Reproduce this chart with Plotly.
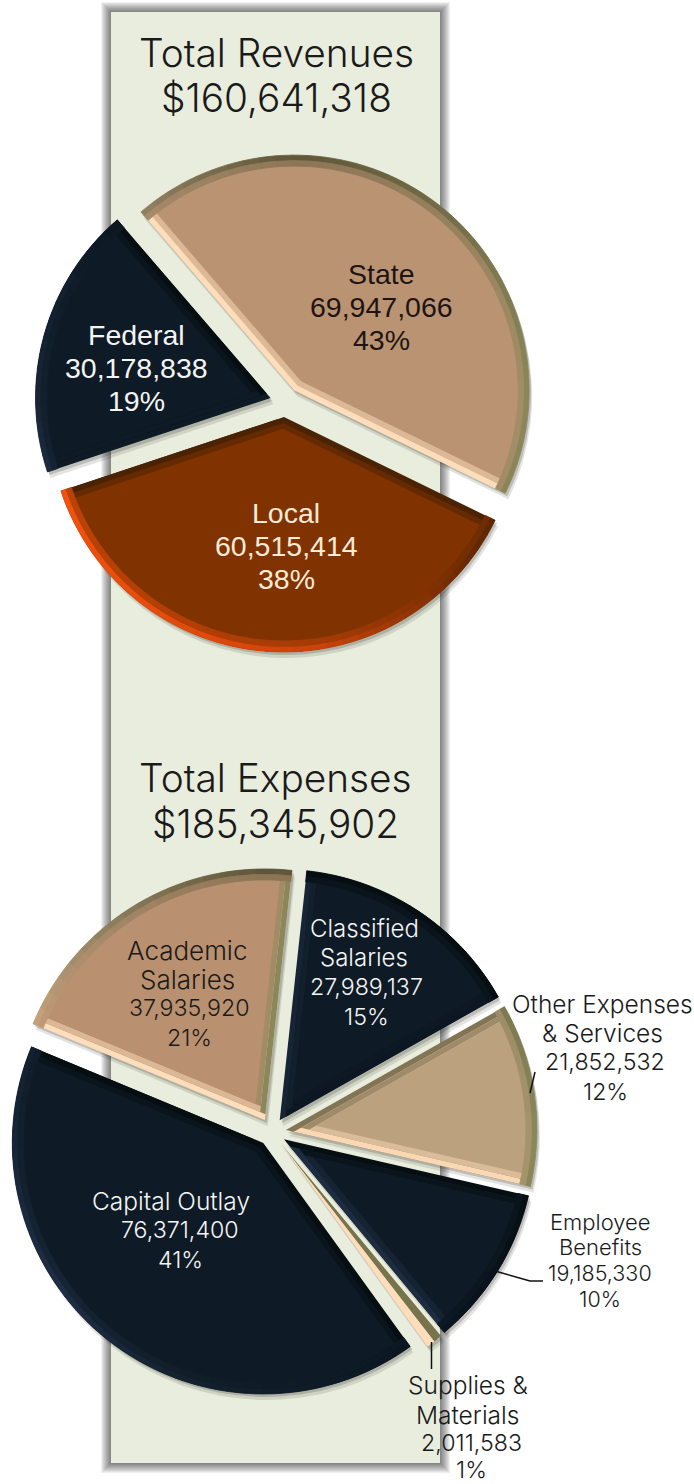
import math
import plotly.graph_objects as go

W, H = 694, 1484

# data
rev_title = ["Total Revenues", "$160,641,318"]
rev_labels = ["State", "Local", "Federal"]
rev_values = [69947066, 60515414, 30178838]
rev_pct = ["43%", "38%", "19%"]

exp_title = ["Total Expenses", "$185,345,902"]
exp_labels = ["Classified<br>Salaries", "Other Expenses<br>& Services", "Employee<br>Benefits",
              "Supplies &<br>Materials", "Capital Outlay", "Academic<br>Salaries"]
exp_values = [27989137, 21852532, 19185330, 2011583, 76371400, 37935920]
exp_pct = ["15%", "12%", "10%", "1%", "41%", "21%"]

# bevel colour by the direction a surface faces (degrees clockwise from top)
TAN = [(0, "#5E5638"), (45, "#75704A"), (90, "#8A875A"), (130, "#8A8458"), (165, "#E8C49A"), (200, "#FFDDBB"),
       (240, "#FFDDBB"), (285, "#D8AE88"), (320, "#8F8060"), (360, "#5E5638")]
BROWN = [(0, "#4A2204"), (100, "#4A2204"), (130, "#6A2A02"), (170, "#C8430A"), (200, "#E04A0C"), (250, "#F2520E"),
         (300, "#7A3300"), (340, "#4A2204"), (360, "#4A2204")]
NAVY = [(0, "#060E12"), (100, "#060E12"), (140, "#0A1520"), (200, "#14222F"), (235, "#1E2E44"), (300, "#111E2B"),
        (340, "#060E12"), (360, "#060E12")]

rev_faces = ["#BA9472", "#803300", "#0E1A25"]
rev_ramps = [TAN, BROWN, NAVY]
exp_faces = ["#0E1A25", "#BCA17F", "#0E1A25", "#D9C79A", "#0E1A25", "#BA9170"]
exp_ramps = [NAVY, TAN, NAVY, TAN, NAVY, TAN]

fig = go.Figure()


def px_x(x):
    return x / W


def px_y(y):
    return 1 - y / H


def direction(a):
    r = math.radians(a)
    return math.sin(r), -math.cos(r)


def to_rgb(c):
    return tuple(int(c[i:i + 2], 16) for i in (1, 3, 5))


def mix(c1, c2, t):
    a, b = to_rgb(c1), to_rgb(c2)
    return "#%02X%02X%02X" % tuple(round(a[i] + (b[i] - a[i]) * t) for i in range(3))


def shade(ramp, angle):
    angle = angle % 360
    for (a0, c0), (a1, c1) in zip(ramp[:-1], ramp[1:]):
        if a0 <= angle <= a1:
            return mix(c0, c1, (angle - a0) / (a1 - a0))
    return ramp[-1][1]


def add_wedge(values, colors, rotation, cx, cy, r, hole=0, seam=0):
    fig.add_trace(go.Pie(
        values=values, sort=False, direction="clockwise", rotation=rotation, hole=hole,
        marker=dict(colors=colors, line=dict(width=seam, color=colors)),
        textinfo="none", hoverinfo="skip", showlegend=False,
        domain=dict(x=[px_x(cx - r), px_x(cx + r)], y=[px_y(cy + r), px_y(cy - r)]),
    ))


def only(values, i, color):
    colors = ["rgba(0,0,0,0)"] * len(values)
    colors[i] = color
    return colors


def split_slice(values, i, n, seg_colors):
    # same slice cut in n equal parts, so the bevel can change colour along it
    vals = values[:i] + [values[i] / n] * n + values[i + 1:]
    colors = ["rgba(0,0,0,0)"] * len(vals)
    colors[i:i + n] = seg_colors
    return vals, colors


def add_beveled_pie(values, faces, ramps, rotation, cx, cy, radius, pull, edge, band, steps=2):
    total = sum(values)
    start = rotation
    for i, v in enumerate(values):
        span = 360 * v / total
        end = start + span
        mid = start + span / 2
        ux, uy = direction(mid)
        ax, ay = cx + pull * ux, cy + pull * uy
        face, ramp = faces[i], ramps[i]
        start_col = shade(ramp, start - 90)
        end_col = shade(ramp, end + 90)

        for dx, dy, alpha in [(3, 6, 0.13), (2, 3, 0.2)]:
            add_wedge(values, only(values, i, f"rgba(40,40,30,{alpha})"), rotation, ax + dx, ay + dy, radius)

        if span < 10:
            # too thin for a face: one half for each side
            vals, cols = split_slice(values, i, 2, [start_col, end_col])
            add_wedge(vals, cols, rotation, ax, ay, radius)
            start = end
            continue

        n1 = direction(start + 90)
        n2 = direction(end - 90)
        det = n1[0] * n2[1] - n1[1] * n2[0]

        def shift(e1, e2):
            return (e1 * n2[1] - e2 * n1[1]) / det, (n1[0] * e2 - n2[0] * e1) / det

        for k in range(steps):
            d0, d1 = edge * k / steps, edge * (k + 1) / steps
            t = k / steps
            sx, sy = shift(d0, d0)
            add_wedge(values, only(values, i, mix(start_col, face, t)), rotation, ax + sx, ay + sy,
                      radius - math.hypot(sx, sy))
            sx, sy = shift(d1, d0)
            add_wedge(values, only(values, i, mix(end_col, face, t)), rotation, ax + sx, ay + sy,
                      radius - math.hypot(sx, sy))

        # face goes under the rim rings so no gap is left between them
        sx, sy = shift(edge, edge)
        add_wedge(values, only(values, i, face), rotation, ax + sx, ay + sy, radius - math.hypot(sx, sy))

        n_seg = max(2, int(span / 4))
        for k in range(steps):
            outer = radius - band * k / steps
            inner = radius - band * (k + 1) / steps
            seg_colors = [mix(shade(ramp, start + (s + 0.5) * span / n_seg), face, k / steps) for s in range(n_seg)]
            vals, cols = split_slice(values, i, n_seg, seg_colors)
            add_wedge(vals, cols, rotation, ax, ay, outer, hole=inner / outer, seam=0.8)
        start = end


def add_lines(centers, ys, lines, sizes, color, family, weight=400):
    for cx, y, line, size in zip(centers, ys, lines, sizes):
        fig.add_annotation(x=px_x(cx), y=px_y(y), xref="paper", yref="paper", text=line, showarrow=False,
                           xanchor="center", yanchor="middle",
                           font=dict(size=size, color=color, family=family, weight=weight))


# panel with soft shadow
for k in range(10, 0, -1):
    fig.add_shape(type="rect", xref="paper", yref="paper", layer="below", line_width=0,
                  fillcolor="rgba(0,0,0,0.06)",
                  x0=px_x(111 - k), x1=px_x(440 + k), y0=px_y(1463 + k), y1=px_y(12 - k))
fig.add_shape(type="rect", xref="paper", yref="paper", layer="below", line_width=0, fillcolor="#E9EDDD",
              x0=px_x(111), x1=px_x(440), y0=px_y(1463), y1=px_y(12))

add_beveled_pie(rev_values, rev_faces, rev_ramps, -40.7, 285, 402, 235, 15, 11, 11)
add_beveled_pie(exp_values, exp_faces, exp_ramps, 6.2, 272, 1132, 251, 14, 11, 11)

# leader lines
for pts in [[(530, 1093), (535, 1072)], [(495, 1271), (530, 1281), (543, 1281)], [(431.5, 1342), (431.5, 1369)]]:
    for (x0, y0), (x1, y1) in zip(pts[:-1], pts[1:]):
        fig.add_shape(type="line", xref="paper", yref="paper", line=dict(color="#111", width=1.5),
                      x0=px_x(x0), x1=px_x(x1), y0=px_y(y0), y1=px_y(y1))

GOTHIC = "Inter, sans-serif"
ARIAL = "Liberation Sans, Arial, sans-serif"

add_lines([276, 276], [53, 98], rev_title, [38.8, 38.8], "#1A1A1A", GOTHIC, 300)
add_lines([275, 275], [777, 823], exp_title, [38.8, 38.8], "#1A1A1A", GOTHIC, 300)


def fmt(v):
    return f"{v:,}"


rev_places = [(381, [274, 307, 340], "#1E1414"), (286, [513, 546, 579], "#FBEBD8"), (136, [335, 368, 401], "#F4F4F4")]
for i, (cx, ys, col) in enumerate(rev_places):
    add_lines([cx] * 3, ys, [rev_labels[i], fmt(rev_values[i]), rev_pct[i]], [28.5] * 3, col, ARIAL)

# word centre, number centre, line positions, colour, word size, number size
exp_places = [
    (364, 367, [928, 957, 987, 1017], "#F4F4F4", 24, 23.2),
    (602, 605, [1004, 1033, 1062, 1092], "#1A1A1A", 24.5, 23.2),
    (600, 600, [1222, 1247, 1273, 1299], "#1A1A1A", 22, 21.5),
    (468, 471, [1385, 1415, 1443, 1470], "#1A1A1A", 24.5, 23.2),
    (171, 180, [1201, 1230, 1260], "#F4F4F4", 24.5, 23.2),
    (187, 190, [950, 979, 1008, 1038], "#1A1A1A", 26, 23.2),
]
for i, (word_x, num_x, ys, col, word, num) in enumerate(exp_places):
    words = exp_labels[i].split("<br>")
    add_lines([word_x] * len(words) + [num_x, num_x], ys, words + [fmt(exp_values[i]), exp_pct[i]],
              [word] * len(words) + [num, num], col, GOTHIC, 300)

fig.update_layout(
    width=W, height=H,
    margin=dict(l=0, r=0, t=0, b=0),
    paper_bgcolor="white",
    plot_bgcolor="white",
    showlegend=False,
)

fig.write_html("out.html", config=dict(displayModeBar=False), post_script="document.body.style.margin='0';")
